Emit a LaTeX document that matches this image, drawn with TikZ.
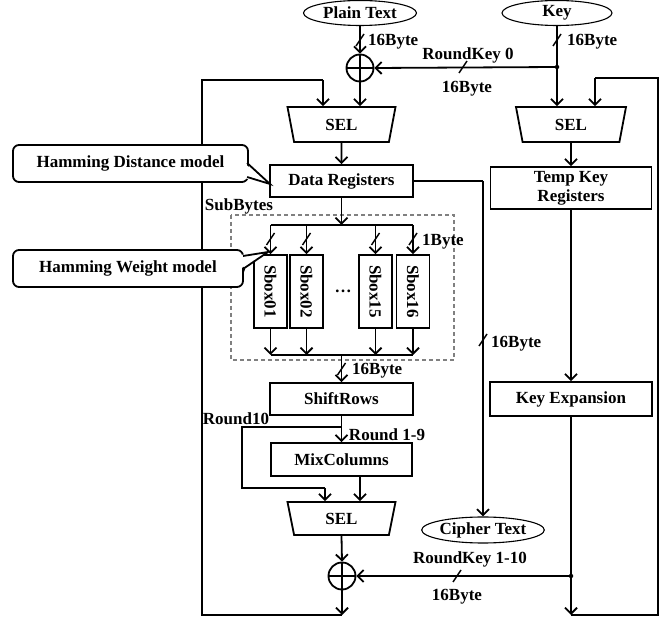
\documentclass[tikz,border=0pt]{standalone}
\usepackage{fontspec}
\setmainfont{Liberation Serif}
\usetikzlibrary{shapes.geometric,arrows.meta,calc}
\begin{document}
\begin{tikzpicture}[x=1pt,y=-1pt,
  every node/.style={font=\bfseries\fontsize{17}{19}\selectfont, inner sep=0pt},
  ln/.style={line width=1.8pt},
  arr/.style={line width=1.8pt,-{Straight Barb[length=6pt,width=12pt,line width=1.8pt]}},
  blk/.style={draw, line width=1.8pt, rectangle, minimum width=#1},
  blk/.default=143,
  oval/.style={ellipse, draw, line width=1.1pt, minimum width=113, minimum height=25},
  selbox/.style={trapezium, draw, line width=1.8pt, shape border rotate=180,
     trapezium angle=60, trapezium stretches body=true, minimum width=108, minimum height=35},
  xorc/.style={circle, draw, line width=1.8pt, minimum size=27,
     path picture={\draw[line width=1.8pt] (path picture bounding box.north) -- (path picture bounding box.south)
       (path picture bounding box.west) -- (path picture bounding box.east);}},
  sboxbox/.style={draw, line width=1.8pt, minimum width=33, minimum height=73},
  note/.style={rectangle, draw, line width=1.8pt, fill=white, rounded corners=6pt, minimum height=37},
  tail/.style={line width=1.8pt, line join=miter},
  dotj/.style={circle, fill, inner sep=0pt, minimum size=4.5},
  busmark/.pic={\draw[line width=1.4pt] (-4,6) -- (4,-6);}
]
\useasboundingbox (0,0) rectangle (665,620);

% ---- nodes
\node[oval] (pt) at (360,13) {Plain Text};
\node[oval, minimum width=110] (key) at (557,13) {Key};
\node[xorc] (xor1) at (360,68) {};
\node[selbox] (sel1) at (341.5,124.5) {SEL};
\node[selbox, minimum width=110] (sel2) at (571,124.5) {SEL};
\node[blk, minimum height=32] (dr) at (341.5,181) {Data Registers};
\node[blk=161, minimum height=42, align=center] (tk) at (571,188) {Temp Key\\Registers};
\node[blk=162, minimum height=34] (ke) at (571,399) {Key Expansion};

\draw[gray, line width=1.1pt, dash pattern=on 4pt off 3pt] (231,215) rectangle (454,360);
\node (subb) at (239,206) {SubBytes};

\node[sboxbox] (s1) at (270.5,291.5) {};
\node[sboxbox] (s2) at (306.5,291.5) {};
\node[sboxbox] (s3) at (375.5,291.5) {};
\node[sboxbox] (s4) at (413,291.5) {};
\node[rotate=-90] at (s1) {Sbox01};
\node[rotate=-90] at (s2) {Sbox02};
\node[rotate=-90] at (s3) {Sbox15};
\node[rotate=-90] at (s4) {Sbox16};
\node (dots) at (343,291) {…};

\node[blk, minimum height=32] (sr) at (341.5,399) {ShiftRows};
\node[blk=141, minimum height=33] (mc) at (341.5,459.5) {MixColumns};
\node[selbox, minimum height=33] (sel3) at (341.5,518.5) {SEL};
\node[xorc] (xor2) at (342,576) {};
\node[oval, minimum height=26] (ct) at (483,530) {Cipher Text};

% ---- coordinates
\coordinate (j1) at (557,67);
\coordinate (j2) at (571,576);
\coordinate (b1) at (341.5,225);
\coordinate (b2) at (341.5,355);
\coordinate (j3) at (341.5,427);
\coordinate (c1) at (242,427);
\coordinate (c2) at (242,488);
\coordinate (c3) at (325,488);
\coordinate (c4) at (483,181);
\coordinate (lb) at (342,615);
\coordinate (lc) at (202,615);
\coordinate (ld) at (202,80);
\coordinate (le) at (323,80);
\coordinate (rb) at (571,615);
\coordinate (rc) at (658,615);
\coordinate (rd) at (658,78);
\coordinate (re) at (595,78);

% ---- connectors
\draw[arr] (pt.south) -- (xor1.north);
\draw[arr] (key.south) -- (key |- sel2.north);
\draw[arr] (j1) -- (xor1.east);
\node[dotj] at (j1) {};
\draw[arr] (xor1.south) -- (xor1 |- sel1.north);
\draw[arr] (le) -- (le |- sel1.north);
\draw[ln, line join=miter] (lb) -- (lc) -- (ld) -- (le);
\draw[arr] (xor2.south) -- (lb);

\draw[arr] (sel2.south) -- (tk.north);
\draw[arr] (tk.south) -- (ke.north);
\draw[arr] (ke.south) -- (rb);
\draw[ln, line join=miter] (rb) -- (rc) -- (rd) -- (re);
\draw[arr] (re) -- (re |- sel2.north);
\draw[arr] (j2) -- (xor2.east);
\node[dotj] at (j2) {};

\draw[arr] (sel1.south) -- (dr.north);
\draw[ln] (dr.east) -- (c4);
\draw[arr] (c4) -- (ct.north);

\draw[arr] (dr.south) -- (b1);
\draw[ln] (s1 |- b1) -- (s4 |- b1);
\foreach \s in {s1,s2,s3,s4}{
  \draw[arr] (\s |- b1) -- (\s.north);
  \draw[arr] (\s.south) -- (\s |- b2);
  \pic at ($(\s |- b1)+(0,14)$) {busmark};
}
\draw[ln] (s1 |- b2) -- (s4 |- b2);
\draw[arr] (b2) -- (sr.north);

\draw[ln] (sr.south) -- (j3);
\draw[arr] (j3) -- (mc.north);
\draw[ln] (j3) -- (c1) -- (c2) -- (c3);
\draw[arr] (c3) -- (c3 |- sel3.north);
\draw[arr] ([xshift=18.5pt]mc.south) -- ([xshift=18.5pt]mc.south |- sel3.north);
\draw[arr] (sel3.south) -- (xor2.north);

% ---- bus marks
\pic at (360,40) {busmark};
\pic at (557,40) {busmark};
\pic at (463,67) {busmark};
\pic at (457,576) {busmark};
\pic at (483,340) {busmark};
\pic at (341.5,369) {busmark};

% ---- labels
\node[anchor=west] at (368,42) {16Byte};
\node[anchor=west] at (567,42) {16Byte};
\node at (468,55) {RoundKey 0};
\node at (467,89) {16Byte};
\node[anchor=west] at (491,344) {16Byte};
\node at (443,242) {1Byte};
\node[anchor=west] at (352,371) {16Byte};
\node at (236,419) {Round10};
\node at (387,435) {Round 1-9};
\node at (470,559) {RoundKey 1-10};
\node at (457,597) {16Byte};

% ---- callouts
\node[note, minimum width=235] (hd) at (130.5,163.5) {Hamming Distance model};
\coordinate (hdtip) at (270,184);
\fill[white] (244,163) -- (hdtip) -- (244,178) -- cycle;
\draw[tail] (247.1,163) -- (hdtip) -- (247.1,177);

\node[note, minimum width=230] (hw) at (128,268.5) {Hamming Weight model};
\coordinate (hwtip) at (268,252);
\fill[white] (240,255) -- (hwtip) -- (240,269) -- cycle;
\draw[tail] (243.1,256) -- (hwtip) -- (244.5,268) -- (243.1,272);
\end{tikzpicture}
\end{document}
